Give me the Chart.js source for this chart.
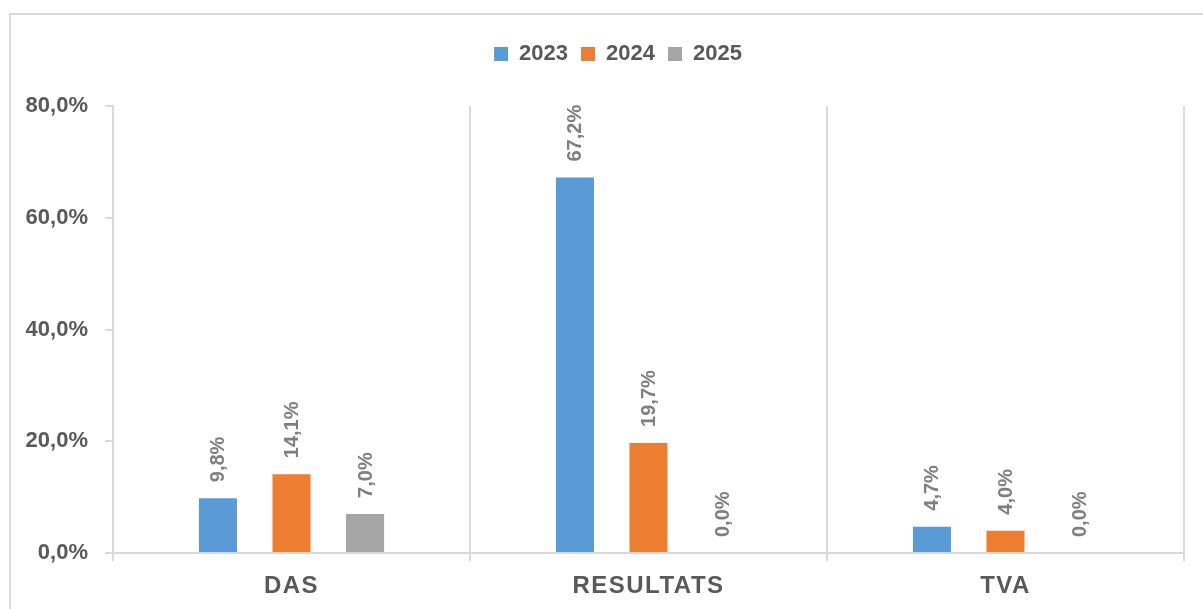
<!DOCTYPE html>
<html>
<head>
<meta charset="utf-8">
<script src="https://cdn.jsdelivr.net/npm/chart.js@4"></script>
<style>
html,body{margin:0;padding:0;background:#fff;overflow:hidden;}
#wrap{width:1203px;height:609px;position:relative;}
</style>
</head>
<body>
<div id="wrap"><canvas id="c"></canvas></div>
<script>
const categories = ['DAS', 'RESULTATS', 'TVA'];
const seriesNames = ['2023', '2024', '2025'];
const values2023 = [9.8, 67.2, 4.7];
const values2024 = [14.1, 19.7, 4.0];
const values2025 = [7.0, 0.0, 0.0];
const yTicks = [0, 20, 40, 60, 80];

const FONT = "'Liberation Sans Narrow', 'Arial Narrow', 'Liberation Sans', Arial, sans-serif";
const colors = ['#5B9BD5', '#ED7D31', '#A5A5A5'];
const fmt = v => v.toFixed(1).replace('.', ',') + '%';

const frame = {
  id: 'frame',
  beforeDraw(chart) {
    const ctx = chart.ctx;
    ctx.save();
    ctx.fillStyle = '#fff';
    ctx.fillRect(0, 0, chart.width, chart.height);
    ctx.strokeStyle = '#D9D9D9';
    ctx.lineWidth = 2;
    ctx.strokeRect(10, 14, 1400, 800);
    ctx.restore();
  }
};

const layoutFix = {
  id: 'layoutFix',
  beforeLayout(chart) {
    const lg = chart.legend;
    if (lg && !lg._fixed) {
      const f = lg.fit;
      lg.fit = function () { f.call(this); this.height = 76; };
      lg._fixed = true;
    }
  },
  afterLayout(chart) {
    const lg = chart.legend;
    if (lg) { lg.left += 16; lg.right += 16; }
    const xs = chart.scales.x;
    if (xs && !xs._ls) {
      const orig = xs.drawLabels;
      xs.drawLabels = function (area) {
        const ctx = this.ctx;
        ctx.save();
        ctx.letterSpacing = '1.5px';
        orig.call(this, area);
        ctx.restore();
      };
      xs._ls = true;
    }
  }
};

const dataLabels = {
  id: 'dataLabels',
  afterDatasetsDraw(chart) {
    const ctx = chart.ctx;
    ctx.save();
    ctx.font = "bold 20px " + FONT;
    ctx.fillStyle = '#7F7F7F';
    ctx.textAlign = 'left';
    ctx.textBaseline = 'middle';
    chart.data.datasets.forEach((ds, di) => {
      const meta = chart.getDatasetMeta(di);
      meta.data.forEach((bar, i) => {
        ctx.save();
        ctx.translate(bar.x + 1, bar.y - 16);
        ctx.rotate(-Math.PI / 2);
        ctx.fillText(fmt(ds.data[i]), 0, 0);
        ctx.restore();
      });
    });
    ctx.restore();
  }
};

const allSeries = [values2023, values2024, values2025];

new Chart(document.getElementById('c'), {
  type: 'bar',
  data: {
    labels: categories,
    datasets: seriesNames.map((n, k) => ({
      label: n,
      data: allSeries[k],
      backgroundColor: colors[k],
      borderWidth: 0,
      categoryPercentage: 0.618,
      barPercentage: 0.517
    }))
  },
  options: {
    responsive: true,
    maintainAspectRatio: false,
    animation: false,
    layout: { padding: { top: 30, left: 20, right: 19, bottom: 0 } },
    plugins: {
      legend: {
        position: 'top',
        labels: {
          boxWidth: 14,
          boxHeight: 14,
          padding: 13,
          color: '#595959',
          font: { family: FONT, size: 22, weight: 'bold' }
        }
      },
      tooltip: { enabled: false }
    },
    scales: {
      x: {
        grid: {
          offset: true,
          color: '#D9D9D9',
          lineWidth: 2,
          tickLength: 8,
          drawOnChartArea: true,
          drawTicks: true
        },
        border: { display: true, color: '#D9D9D9', width: 2 },
        ticks: {
          color: '#595959',
          padding: 11,
          font: { family: FONT, size: 24, weight: 'bold' }
        },
        afterFit(s) { s.height = 56; }
      },
      y: {
        min: 0,
        max: 80,
        afterBuildTicks(s) { s.ticks = yTicks.map(v => ({ value: v })); },
        grid: {
          drawOnChartArea: false,
          drawTicks: true,
          tickLength: 8,
          color: '#D9D9D9',
          lineWidth: 2
        },
        border: { display: true, color: '#D9D9D9', width: 2 },
        ticks: {
          color: '#595959',
          padding: 17,
          font: { family: FONT, size: 22, weight: 'bold' },
          callback: v => fmt(v)
        },
        afterFit(s) { s.width = 93; }
      }
    }
  },
  plugins: [frame, layoutFix, dataLabels]
});
</script>
</body>
</html>
